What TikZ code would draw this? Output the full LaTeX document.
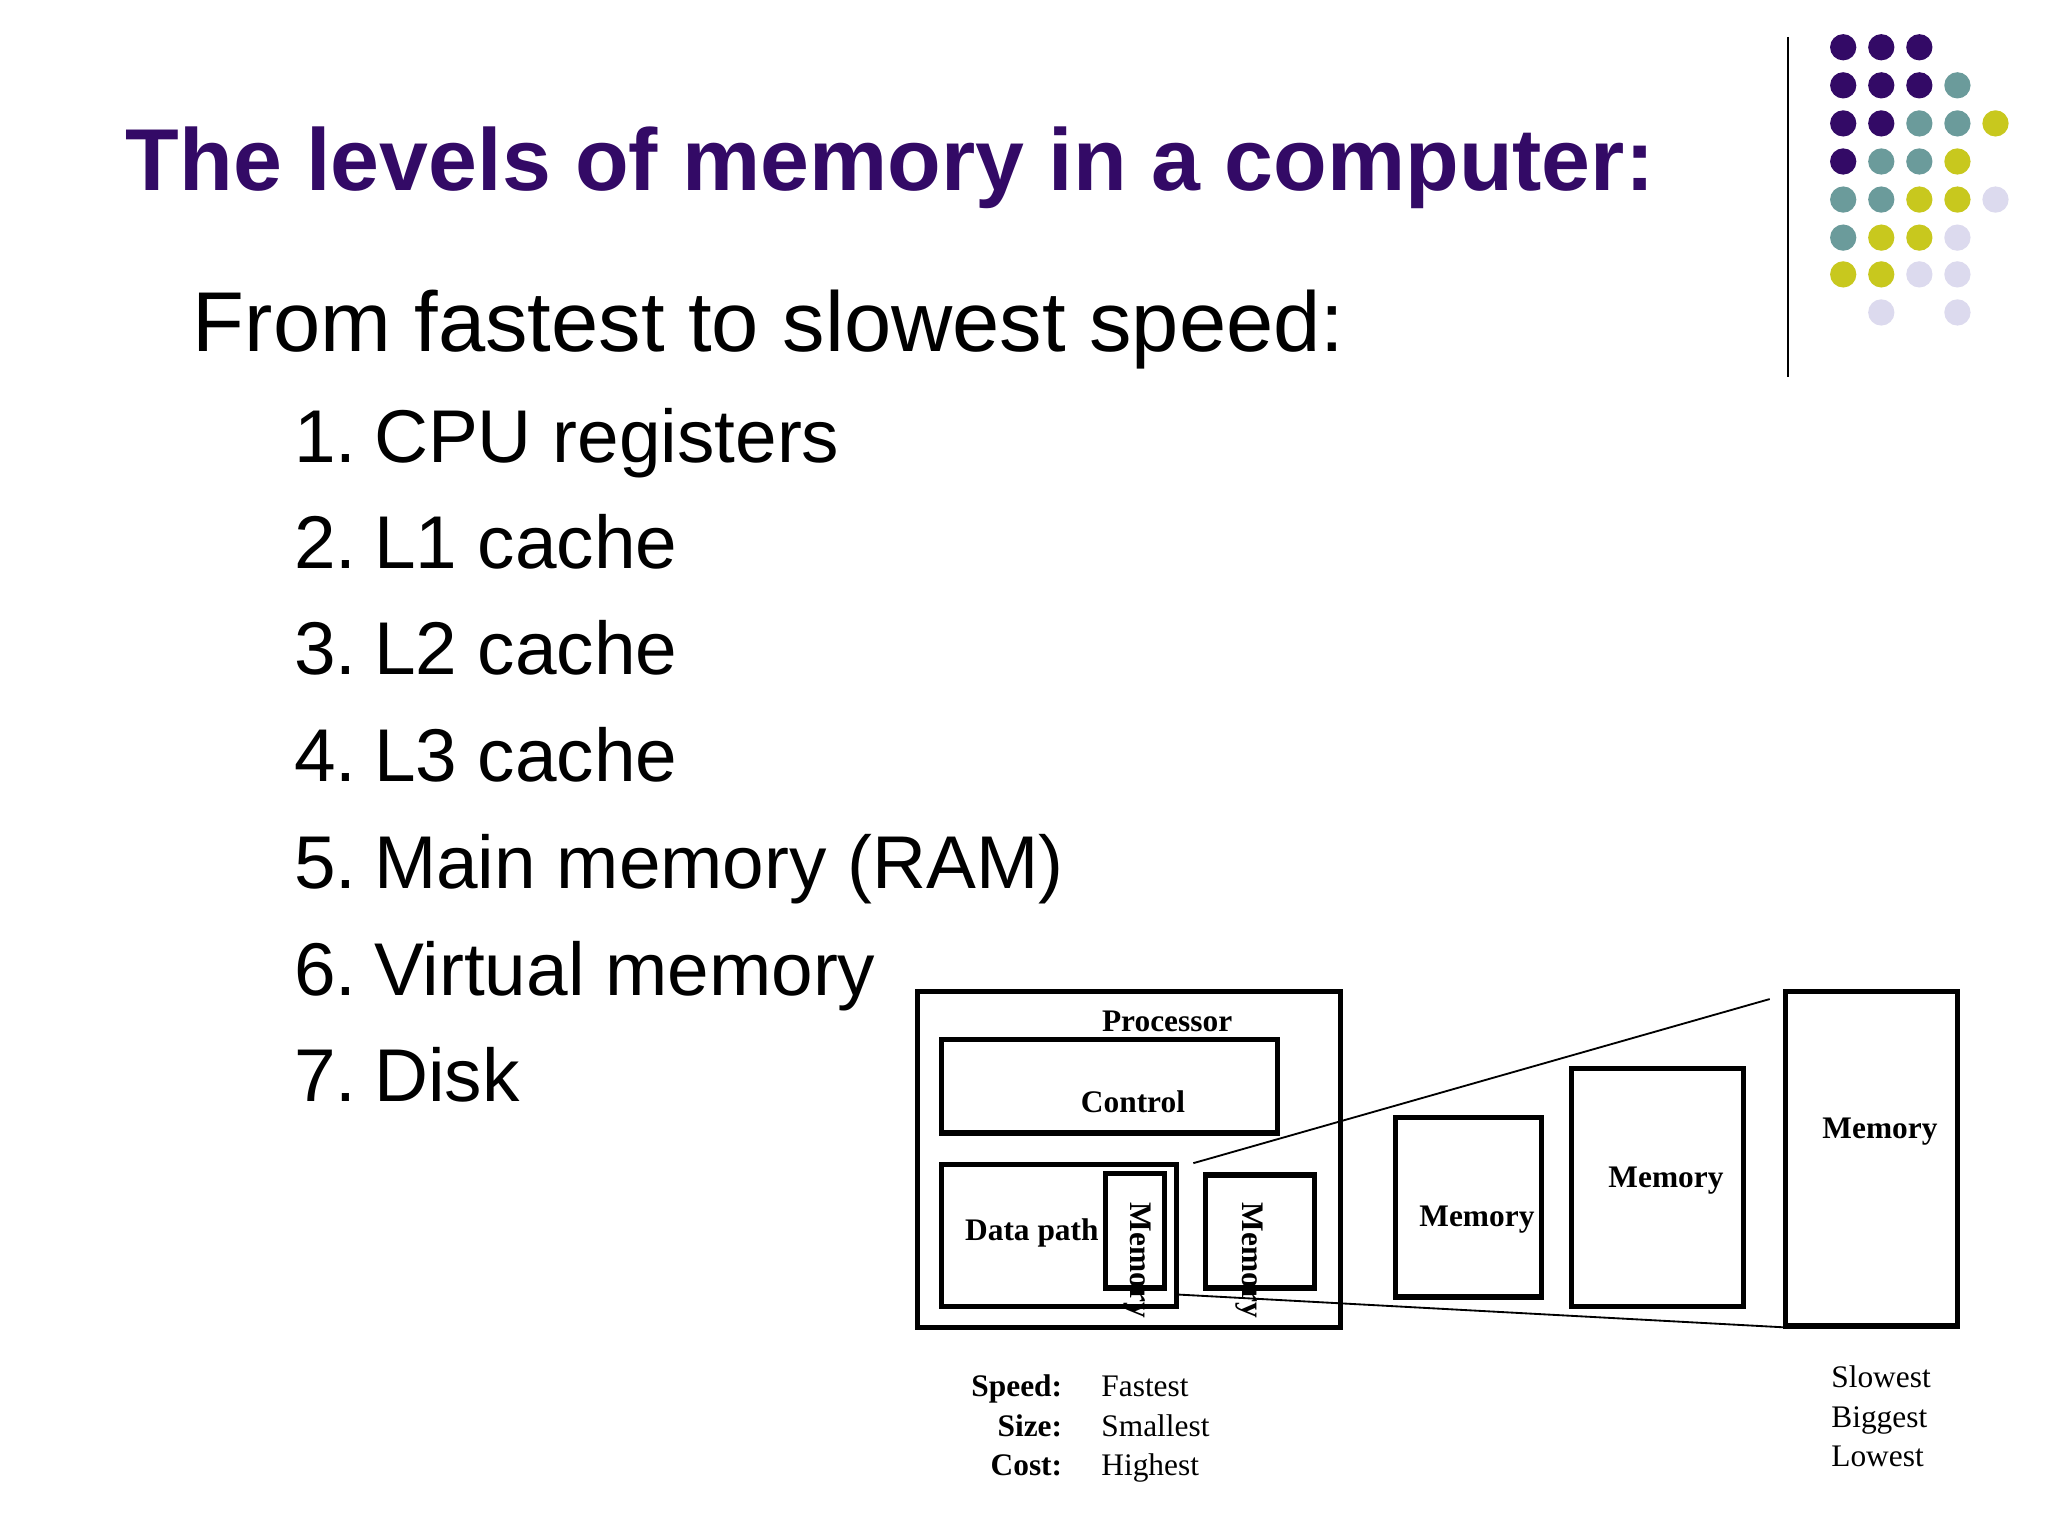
\documentclass[tikz,border=0pt]{standalone}
\usepackage{fontspec}
\setmainfont{Liberation Serif}
\setsansfont{Liberation Sans}
\definecolor{pp}{HTML}{330A66}
\definecolor{tl}{HTML}{6B9B9B}
\definecolor{yl}{HTML}{C8C81E}
\definecolor{lv}{HTML}{DCDAEE}
\begin{document}
\begin{tikzpicture}[x=0.025cm,y=-0.025cm,
  bx/.style={draw,line width=0.1cm},
  lab/.style={font=\fontsize{17}{20}\selectfont\bfseries},
  sm/.style={font=\fontsize{17}{20}\selectfont},
  item/.style={anchor=base west,font=\sffamily\fontsize{40.5}{50}\selectfont},
  dot/.style={circle,minimum size=0.5cm,inner sep=0}]
\useasboundingbox (0,0) rectangle (1560,1170);
\fill[white] (0,0) rectangle (1560,1170);
\node[anchor=base west,text=pp,font=\sffamily\bfseries\fontsize{47.6}{54}\selectfont] (title) at (91,145) {The levels of memory in a computer:};
\node[anchor=base west,font=\sffamily\fontsize{46}{54}\selectfont] (sub) at (142,268) {From fastest to slowest speed:};
\foreach \n/\t/\y in {1/CPU registers/352,2/L1 cache/433,3/L2 cache/514,4/L3 cache/595,5/Main memory (RAM)/677,6/Virtual memory/758,7/Disk/839}{
  \node[item] (n\n) at (219,\y) {\n.};
  \node[item] (i\n) at (280,\y) {\t};}
% dots
\draw[line width=1.2pt] (1362,28) -- (1362,287);
\foreach \r/\cols in {36/{pp,pp,pp},65/{pp,pp,pp,tl},94/{pp,pp,tl,tl,yl},123/{pp,tl,tl,yl},152/{tl,tl,yl,yl,lv},181/{tl,yl,yl,lv},209/{yl,yl,lv,lv}}{
  \foreach \c [count=\i] in \cols {\node[dot,fill=\c] at ({1375+29*\i},\r) {};}}
\node[dot,fill=lv] at (1433,238) {};
\node[dot,fill=lv] at (1491,238) {};
% diagram
\begin{scope}[xshift=-0.1cm,yshift=0.1cm]
\draw[bx] (703,759) rectangle (1025,1015);
\node[lab] (proc) at (893,782) {Processor};
\draw[bx] (721,796) rectangle (977,867);
\node[lab] (ctrl) at (867,843) {Control};
\draw[bx] (721,891) rectangle (900,999);
\node[lab] (dp) at (790,943) {Data path};
\draw[bx] (846,898) rectangle (891,985);
\node[lab,rotate=-90] (m1) at (870,964) {Memory};
\draw[bx] (922,899) rectangle (1005,985);
\node[lab,rotate=-90] (m2) at (956,964) {Memory};
\draw[bx] (1067,855) rectangle (1178,992);
\node[lab] (m3) at (1129,933) {Memory};
\draw[bx] (1201,818) rectangle (1332,999);
\node[lab] (m4) at (1273,903) {Memory};
\draw[bx] (1364,759) rectangle (1495,1014);
\node[lab] (m5) at (1436,866) {Memory};
\coordinate (a1) at (913,890); \coordinate (a2) at (1352,765);
\coordinate (b1) at (900,990); \coordinate (b2) at (1362,1015);
\draw[line width=1pt] (a1) -- (a2);
\draw[line width=1pt] (b1) -- (b2);
\node[lab,anchor=base east] (sp) at (818,1068) {Speed:};
\node[lab,anchor=base east] (sz) at (818,1098) {Size:};
\node[lab,anchor=base east] (ct) at (818,1128) {Cost:};
\node[sm,anchor=base west] (v1) at (838,1068) {Fastest};
\node[sm,anchor=base west] (v2) at (838,1098) {Smallest};
\node[sm,anchor=base west] (v3) at (838,1128) {Highest};
\node[sm,anchor=base west] (w1) at (1394,1061) {Slowest};
\node[sm,anchor=base west] (w2) at (1394,1091) {Biggest};
\node[sm,anchor=base west] (w3) at (1394,1121) {Lowest};
\end{scope}
\end{tikzpicture}
\end{document}
